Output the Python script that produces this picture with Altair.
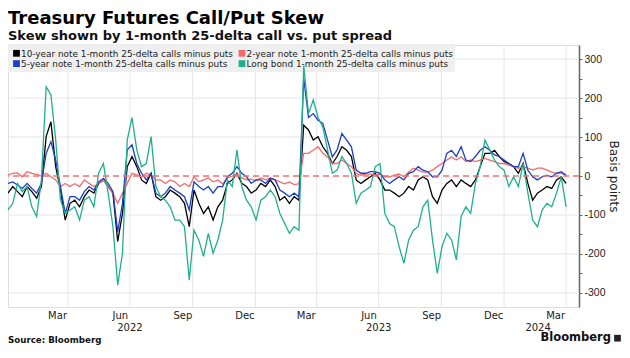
import altair as alt
import pandas as pd

# Weekly samples (basis points)
dates = pd.date_range("2022-01-03", periods=118, freq="7D")

ten_year = [-44, -27, -40, -53, -27, -40, -57, -27, 101, 139,
            24, -36, -113, -70, -62, -79, -53, -36, -44, -19,
            -10, -27, -44, -168, -96, 24, 50, 24, -10, -19,
            7, -53, -62, -53, -36, -44, -53, -70, -130, -36,
            -70, -96, -79, -113, -79, -62, -19, -10, 7, -19,
            -27, -44, -36, -19, -27, -10, -27, -62, -53, -70,
            -53, -62, 130, 118, 92, 101, 75, 58, 32, 50,
            75, 66, 50, -10, -19, -10, -2, 7, -10, -36,
            -36, -44, -53, -44, -27, -36, -10, -2, -10, -53,
            -70, -36, -19, -10, -27, -10, -19, -27, -10, 24,
            58, 58, 66, 50, 37, 32, 24, 7, 32, -19,
            -62, -44, -36, -27, -32, -10, -2, -19]

two_year = [3, 7, 8, -2, 11, 7, 4, 0, 7, -2,
            -10, -27, -19, -27, -20, -27, -10, -19, -27, -19,
            -10, -27, -44, -70, -44, -19, 7, 3, -2, 7,
            3, -10, -10, -19, -10, -15, -27, -19, -27, -2,
            -15, -10, -5, -15, -10, -20, -5, 0, 5, -5,
            -10, -8, -12, -5, -10, -5, -10, -15, -20, -15,
            -22, -20, 58, 58, 66, 75, 58, 49, 32, 32,
            41, 32, 24, 7, 2, 5, 5, 3, 5, -2,
            -2, 2, 5, -2, 10, 20, 15, 10, 10, 15,
            24, 32, 41, 49, 41, 49, 37, 41, 37, 41,
            45, 41, 37, 32, 32, 28, 24, 20, 24, 20,
            15, 20, 20, 15, 10, 7, 7, 3]

five_year = [-19, -15, -23, -32, -19, -32, -44, -19, 58, 88,
             41, -27, -96, -53, -53, -62, -40, -27, -36, -15,
             -6, -19, -40, -143, -70, 67, 80, 32, 7, -10,
             7, -44, -53, -44, -27, -36, -44, -53, -87, -15,
             -27, -36, -27, -44, -27, -27, -2, 7, 24, 7,
             -2, -19, -10, -10, -19, -6, -10, -36, -44, -53,
             -44, -53, 250, 150, 160, 143, 135, 92, 49, 67,
             109, 92, 75, 15, 7, 7, 11, 11, 7, -10,
             -19, -10, -2, -10, 7, 11, 24, 15, 11, -2,
             -2, 15, 58, 66, 50, 75, 41, 37, 50, 66,
             75, 66, 54, 50, 41, 32, 24, 24, 58, 15,
             -2, -10, -2, 2, -2, 7, 11, 2]

long_bond = [-87, -70, -19, -40, -27, -79, -104, -10, 229, 208,
             92, -62, -96, -87, -79, -113, -62, -53, -79, 7,
             32, -44, -130, -280, -198, 92, 150, 67, 24, 32,
             101, -27, -53, -62, -79, -113, -113, -130, -267, -139,
             -164, -206, -147, -198, -164, -113, -10, -27, 67, -27,
             -62, -79, -113, -62, -53, -36, -53, -96, -122, -147,
             -130, -139, 283, 160, 195, 150, 126, 67, 7, 15,
             50, 32, 7, -70, -44, -36, -27, 24, 32, -96,
             -122, -130, -181, -224, -164, -139, -130, -79, -62, -164,
             -250, -181, -147, -164, -215, -104, -79, -96, -19, 24,
             92, 67, 41, 24, 15, -27, -2, -27, 32, -44,
             -113, -130, -87, -70, -79, -44, -2, -79]

names = ["10-year note 1-month 25-delta calls minus puts",
         "2-year note 1-month 25-delta calls minus puts",
         "5-year note 1-month 25-delta calls minus puts",
         "Long bond 1-month 25-delta calls minus puts"]
colors = ["#000000", "#f26b6b", "#1c3fc9", "#1fb08c"]

y_ticks = list(range(-300, 301, 50))
grid_values = [-300, -200, -100, 100, 200, 300]
quarter_starts = ["2022-04-01", "2022-07-01", "2022-10-01", "2023-01-01", "2023-04-01",
                  "2023-07-01", "2023-10-01", "2024-01-01", "2024-04-01"]
month_label_dates = [(2022, 3), (2022, 6), (2022, 9), (2022, 12), (2023, 3),
                     (2023, 6), (2023, 9), (2023, 12), (2024, 3)]
year_labels = ["2022", "2023", "2024"]
year_label_dates = ["2022-07-01", "2023-07-01", "2024-02-20"]

FONT = "DejaVu Sans"

rows = []
for name, vals in zip(names, [ten_year, two_year, five_year, long_bond]):
    for d, v in zip(dates, vals):
        rows.append({"date": d, "series": name, "value": v})
df = pd.DataFrame(rows)

x_scale = alt.Scale(domain=[alt.DateTime(year=2022, month=1, date=3),
                            alt.DateTime(year=2024, month=4, date=20)])
y_scale = alt.Scale(domain=[-336, 336], nice=False, zero=False)
color_scale = alt.Scale(domain=names, range=colors)

x_axis = alt.Axis(values=[alt.DateTime(year=y, month=m, date=16) for y, m in month_label_dates],
                  format="%b", grid=False, domain=False, ticks=False,
                  labelFont=FONT, labelFontSize=10, labelColor="#222", labelPadding=3,
                  labelFlush=False)
y_axis = alt.Axis(orient="right", values=y_ticks,
                  labelExpr="datum.value % 100 == 0 ? toString(datum.value) : ''",
                  grid=False, tickSize=3, tickColor="#666", domainColor="#666",
                  domainWidth=1.5, labelFont="Liberation Sans Narrow, Liberation Sans",
                  labelFontSize=10.5, labelColor="#222", labelPadding=2,
                  title="Basis points", titleFont=FONT, titleFontSize=12,
                  titleFontWeight="normal", titleColor="#222", titlePadding=1,
                  titleAngle=90)

X = alt.X("date:T", scale=x_scale, axis=x_axis, title=None)
Y = alt.Y("value:Q", scale=y_scale, axis=y_axis)

vgrid = alt.Chart(pd.DataFrame({"date": pd.to_datetime(quarter_starts)})).mark_rule(
    color="#e6e6e6", strokeWidth=1).encode(x=X)

hgrid = alt.Chart(pd.DataFrame({"value": grid_values})).mark_rule(
    color="#e6e6e6", strokeWidth=1).encode(y=Y)

# legend drawn as marks: grey box, colour squares, labels (2 columns)
one = pd.DataFrame({"k": [0]})
legend_box = alt.Chart(one).mark_rect(color="#efefef").encode(
    x=alt.value(-2), x2=alt.value(447), y=alt.value(-1), y2=alt.value(27))

legend_layers = [legend_box]
for i, name in enumerate(names):
    col, row = i % 2, i // 2
    sx = 8.5 + col * 225.5
    sy = 8.3 + row * 10.3
    item = pd.DataFrame({"series": [name]})
    legend_layers.append(alt.Chart(item).mark_square(size=46, opacity=1).encode(
        x=alt.value(sx), y=alt.value(sy),
        color=alt.Color("series:N", scale=color_scale, legend=None)))
    legend_layers.append(alt.Chart(item).mark_text(
        font=FONT, fontSize=8.9, color="#222", align="left", baseline="middle").encode(
        x=alt.value(sx + 4.5), y=alt.value(sy + 0.5), text="series:N"))

lines = alt.Chart(df).mark_line(strokeWidth=1.3, clip=True).encode(
    x=X, y=Y,
    color=alt.Color("series:N", scale=color_scale, legend=None),
    detail="series:N")

zero = alt.Chart(pd.DataFrame({"value": [0]})).mark_rule(
    color="#f07070", strokeWidth=1.5, strokeDash=[6, 4]).encode(y=Y)

years = alt.Chart(pd.DataFrame({"date": pd.to_datetime(year_label_dates), "label": year_labels})).mark_text(
    font=FONT, fontSize=10, color="#222", baseline="middle").encode(
    x=X, y=alt.value(282.5), text="label:N")

source = alt.Chart(pd.DataFrame({"t": ["Source: Bloomberg"]})).mark_text(
    font=FONT, fontSize=8.7, fontWeight="bold", color="#111", align="left",
    baseline="middle").encode(x=alt.value(0), y=alt.value(294.5), text="t:N")

brand = alt.Chart(pd.DataFrame({"t": ["Bloomberg"]})).mark_text(
    font=FONT, fontSize=11.5, fontWeight="bold", color="#111", align="right",
    baseline="middle").encode(x=alt.value(603), y=alt.value(293.2), text="t:N")

brand_icon = alt.Chart(pd.DataFrame({"t": ["icon"]})).mark_square(
    color="#222", size=45, opacity=1).encode(x=alt.value(609.5), y=alt.value(293.2))

chart = alt.layer(vgrid, hgrid, *legend_layers, lines, zero, years, source, brand,
                  brand_icon).properties(
    width=571, height=262,
    autosize=alt.AutoSizeParams(type="none"),
    padding={"left": 0, "top": 37, "right": 43, "bottom": 38},
    title=alt.TitleParams(text="Treasury Futures Call/Put Skew",
                          subtitle="Skew shown by 1-month 25-delta call vs. put spread",
                          anchor="start", frame="group", font=FONT, fontSize=18,
                          fontWeight="bold", color="#000", subtitleFont=FONT,
                          subtitleFontSize=13, subtitleFontWeight="bold",
                          subtitleColor="#111", subtitlePadding=2, offset=1),
).configure_view(strokeWidth=0).configure(background="white")

chart.save("out.html", embed_options={"renderer": "svg", "actions": False})
